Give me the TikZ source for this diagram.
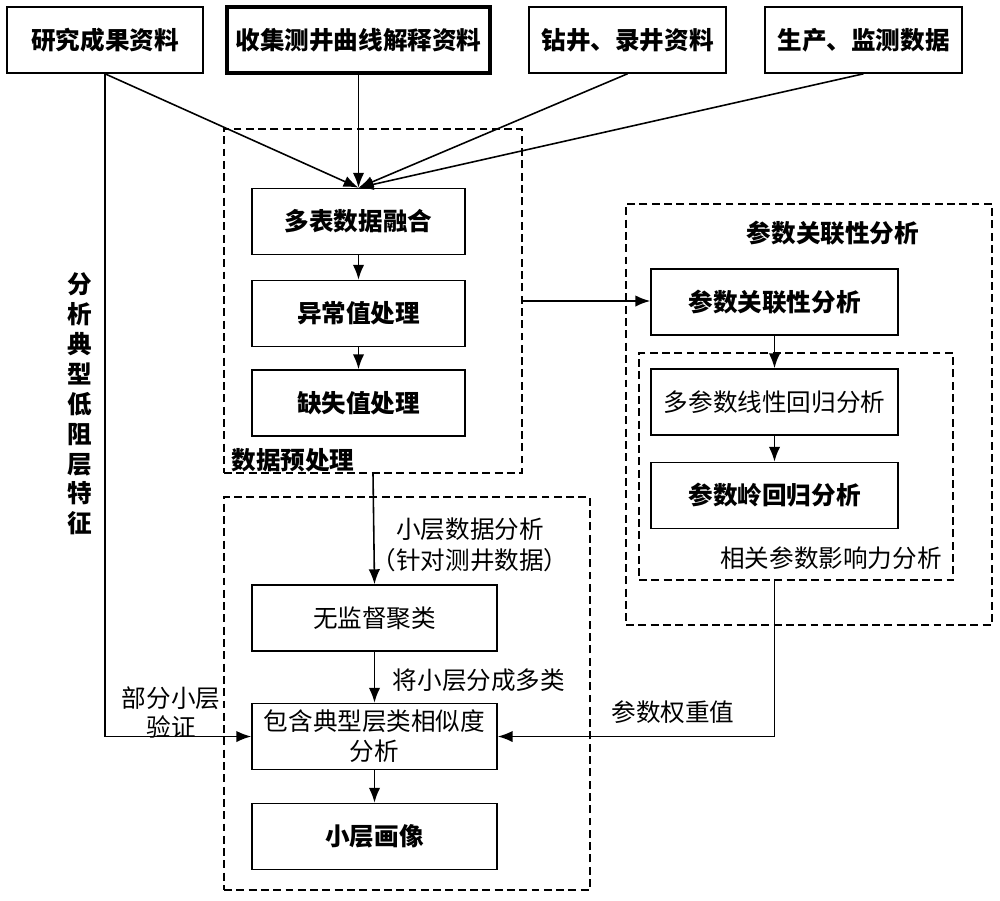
\documentclass[tikz,border=0pt]{standalone}
\usepackage{fontspec}
\setmainfont{Noto Sans CJK SC}
\usetikzlibrary{arrows.meta}

\begin{document}
\begin{tikzpicture}[x=0.02cm, y=-0.02cm, line width=0.9pt, >={Latex[length=8.5pt, width=6.5pt]}]
	\tikzstyle{every node} = [font=\fontsize{14}{17}\selectfont]
	\tikzstyle{box} = [draw, rectangle, minimum height=1.32cm, inner sep=0pt]
	\tikzstyle{src} = [box, font=\fontsize{14}{17}\selectfont\bfseries]
	\tikzstyle{region} = [draw, rectangle, dash pattern=on 4.5pt off 2.5pt, inner sep=0pt]
	\tikzstyle{word} = [inner sep=1pt, align=center]
	\useasboundingbox (0,0) rectangle (1000,900);
	% dashed regions
	\node[region, minimum width=5.96cm, minimum height=6.88cm] (pre) at (373, 301) {};
	\node[region, minimum width=7.32cm, minimum height=8.42cm] (par) at (809, 414.5) {};
	\node[region, minimum width=6.28cm, minimum height=4.54cm] (infl) at (796, 466.5) {};
	\node[region, minimum width=7.32cm, minimum height=7.86cm] (low) at (407, 693.5) {};
	% sources
	\node[src, minimum width=3.92cm] (src1) at (105, 40) {研究成果资料};
	\node[src, minimum width=5.26cm, line width=1.8pt] (src2) at (358.5, 40) {收集测井曲线解释资料};
	\node[src, minimum width=3.94cm] (src3) at (627.5, 40) {钻井、录井资料};
	\node[src, minimum width=3.94cm] (src4) at (863.5, 40) {生产、监测数据};
	% steps
	\node[src, minimum width=4.26cm] (fuse) at (358.5, 221.5) {多表数据融合};
	\node[src, minimum width=4.26cm] (abn) at (358.5, 313.5) {异常值处理};
	\node[src, minimum width=4.26cm] (miss) at (358.5, 403) {缺失值处理};
	\node[src, minimum width=4.94cm] (corr) at (774.5, 302) {参数关联性分析};
	\node[box, minimum width=4.94cm] (lin) at (774.5, 402) {多参数线性回归分析};
	\node[src, minimum width=4.94cm] (ridge) at (774.5, 495.5) {参数岭回归分析};
	\node[box, minimum width=4.9cm] (clus) at (374.5, 618) {无监督聚类};
	\node[box, minimum width=4.9cm, align=center] (sim) at (374.5, 736.5) {包含典型层类相似度\\分析};
	\node[src, minimum width=4.9cm] (port) at (374.5, 836.5) {小层画像};
	% labels
	\node[word, font=\fontsize{14}{17}\selectfont\bfseries] (prelabel) at (293, 460) {数据预处理};
	\node[word, font=\fontsize{14}{17}\selectfont\bfseries] (partitle) at (833, 233) {参数关联性分析};
	\node[word] (infllabel) at (831, 558) {相关参数影响力分析};
	\node[word, font=\fontsize{14}{17.5}\selectfont] (lowlabel) at (470, 545) {小层数据分析\\（针对测井数据）};
	\node[word] (splitlabel) at (479, 680) {将小层分成多类};
	\node[word, font=\fontsize{14}{16.5}\selectfont] (checklabel) at (171, 712) {部分小层\\验证};
	\node[word] (weightlabel) at (673, 712) {参数权重值};
	\node[word, font=\fontsize{14}{17}\selectfont\bfseries] (featlabel) at (80, 404) {分\\析\\典\\型\\低\\阻\\层\\特\\征};
	% connectors
	\draw [->] (src1.south) -- (fuse.north);
	\draw [->] (src2.south) -- (fuse.north);
	\draw [->] (src3.south) -- (fuse.north);
	\draw [->] (src4.south) -- (fuse.north);
	\draw [->] (fuse) -- (abn);
	\draw [->] (abn) -- (miss);
	\draw [->] (pre.east) -- (pre.east -| corr.west);
	\draw [->] (corr) -- (lin);
	\draw [->] (lin) -- (ridge);
	\draw [->] (pre.south) -- (clus.north);
	\draw [->] (clus) -- (sim);
	\draw [->] (sim) -- (port);
	\draw [->] (src1.south) |- (sim.west);
	\draw [->] (infl.south -| corr.south) |- (sim.east);
\end{tikzpicture}
\end{document}
